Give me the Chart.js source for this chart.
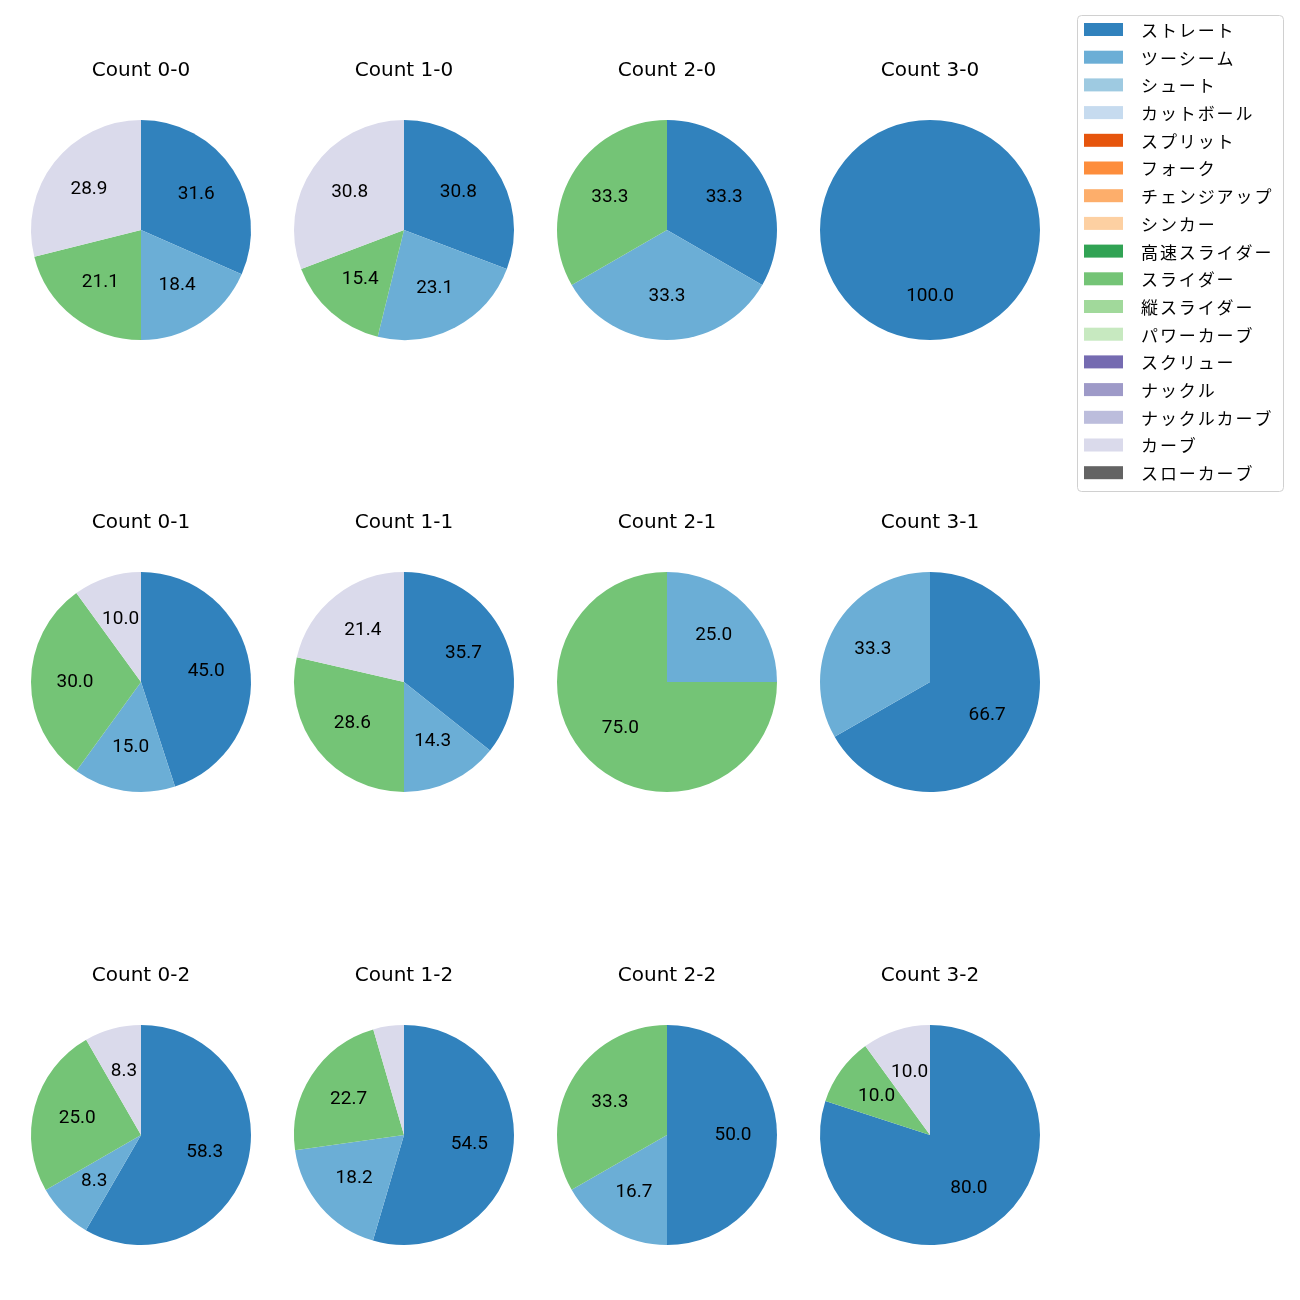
<!DOCTYPE html>
<html>
<head>
<meta charset="utf-8">
<script src="https://cdn.jsdelivr.net/npm/chart.js@4.4.1/dist/chart.umd.min.js"></script>
<style>
  html, body { margin: 0; padding: 0; background: #fff; }
  #wrap { position: relative; width: 1300px; height: 1300px; }
  .cell { position: absolute; }
</style>
</head>
<body>
<div id="wrap"></div>
<script>
// ---- data ----
const pitchTypes = ['ストレート','ツーシーム','シュート','カットボール','スプリット','フォーク','チェンジアップ','シンカー','高速スライダー','スライダー','縦スライダー','パワーカーブ','スクリュー','ナックル','ナックルカーブ','カーブ','スローカーブ'];
const pitchColors = ['#3182bd','#6baed6','#9ecae1','#c6dbef','#e6550d','#fd8d3c','#fdae6b','#fdd0a2','#31a354','#74c476','#a1d99b','#c7e9c0','#756bb1','#9e9ac8','#bcbddc','#dadaeb','#636363'];
const countLabels = ['0-0','1-0','2-0','3-0','0-1','1-1','2-1','3-1','0-2','1-2','2-2','3-2'];
const straight = [31.6, 30.8, 33.3, 100.0, 45.0, 35.7, 0, 66.7, 58.3, 54.5, 50.0, 80.0];
const twoSeam  = [18.4, 23.1, 33.3, 0, 15.0, 14.3, 25.0, 33.3, 8.3, 18.2, 16.7, 0];
const slider   = [21.1, 15.4, 33.3, 0, 30.0, 28.6, 75.0, 0, 25.0, 22.7, 33.3, 10.0];
const curve    = [28.9, 30.8, 0, 0, 10.0, 21.4, 0, 0, 8.3, 4.5, 0, 10.0];

const JPFONT = '"Noto Sans CJK JP", "Noto Sans", sans-serif';
const colX = [141, 404, 667, 930];
const rowY = [230, 682, 1135];
const R = 110;

const wrap = document.getElementById('wrap');

const labelPlugin = {
  id: 'pctLabels',
  afterDatasetsDraw(chart) {
    const ctx = chart.ctx;
    const meta = chart.getDatasetMeta(0);
    const vals = chart.data.datasets[0].data;
    const total = vals.reduce((a, b) => a + b, 0);
    ctx.save();
    ctx.font = '19px Roboto, "DejaVu Sans", sans-serif';
    ctx.fillStyle = '#000';
    ctx.textAlign = 'center';
    ctx.textBaseline = 'alphabetic';
    meta.data.forEach((arc, i) => {
      const pct = vals[i] / total * 100;
      if (!(pct >= 5)) return;
      const p = arc.getProps(['x','y','startAngle','endAngle','outerRadius']);
      const mid = (p.startAngle + p.endAngle) / 2;
      const rr = p.outerRadius * 0.6;
      ctx.fillText(vals[i].toFixed(1), p.x + Math.cos(mid) * rr, p.y + Math.sin(mid) * rr + 4.8);
    });
    ctx.restore();
  }
};

const TITLE_BASE = 21;
const titlePlugin = {
  id: 'cellTitle',
  afterDraw(chart) {
    const ctx = chart.ctx;
    ctx.save();
    ctx.font = '20px "DejaVu Sans", sans-serif';
    ctx.fillStyle = '#000';
    ctx.textAlign = 'center';
    ctx.textBaseline = 'alphabetic';
    ctx.fillText(chart.options.plugins.cellTitle.text, chart.width / 2, TITLE_BASE);
    ctx.restore();
  }
};

const W = 262, H = 350;
countLabels.forEach((c, k) => {
  const col = k % 4, row = Math.floor(k / 4);
  const div = document.createElement('div');
  div.className = 'cell';
  div.style.left = (colX[col] - W / 2) + 'px';
  div.style.top = (rowY[row] - H / 2) + 'px';
  div.style.width = W + 'px';
  div.style.height = H + 'px';
  const cv = document.createElement('canvas');
  cv.width = W; cv.height = H;
  div.appendChild(cv);
  wrap.appendChild(div);
  const data = pitchTypes.map(() => 0);
  data[0] = straight[k];
  data[1] = twoSeam[k];
  data[9] = slider[k];
  data[15] = curve[k];
  new Chart(cv, {
    type: 'pie',
    data: { labels: pitchTypes, datasets: [{ data, backgroundColor: pitchColors, borderWidth: 0, hoverOffset: 0 }] },
    options: {
      responsive: false, animation: false, devicePixelRatio: 1,
      radius: R,
      layout: { padding: 0 },
      events: [],
      plugins: { legend: { display: false }, tooltip: { enabled: false }, cellTitle: { text: 'Count ' + c } }
    },
    plugins: [labelPlugin, titlePlugin]
  });
});

// legend chart
const legendPlugin = {
  id: 'boxLegend',
  afterDraw(chart) {
    const ctx = chart.ctx;
    const labels = chart.data.labels;
    const colors = chart.data.datasets[0].backgroundColor;
    ctx.save();
    const x0 = 7.5, y0 = 5.5, w = 206, h = 476, r = 4;
    ctx.beginPath();
    ctx.moveTo(x0 + r, y0);
    ctx.lineTo(x0 + w - r, y0); ctx.quadraticCurveTo(x0 + w, y0, x0 + w, y0 + r);
    ctx.lineTo(x0 + w, y0 + h - r); ctx.quadraticCurveTo(x0 + w, y0 + h, x0 + w - r, y0 + h);
    ctx.lineTo(x0 + r, y0 + h); ctx.quadraticCurveTo(x0, y0 + h, x0, y0 + h - r);
    ctx.lineTo(x0, y0 + r); ctx.quadraticCurveTo(x0, y0, x0 + r, y0);
    ctx.closePath();
    ctx.fillStyle = 'rgba(255,255,255,0.8)';
    ctx.fill();
    ctx.strokeStyle = '#d0d0d0';
    ctx.lineWidth = 1;
    ctx.stroke();
    ctx.font = '17px ' + JPFONT;
    ctx.letterSpacing = '1.9px';
    ctx.textBaseline = 'middle';
    ctx.textAlign = 'left';
    labels.forEach((lab, i) => {
      const cy = 19.5 + i * 27.7;
      ctx.fillStyle = colors[i];
      ctx.fillRect(14, cy - 6.5, 39, 13);
      ctx.fillStyle = '#000';
      ctx.fillText(lab, 71, cy + 1);
    });
    ctx.restore();
  }
};
const ldiv = document.createElement('div');
ldiv.className = 'cell';
ldiv.style.left = '1070px'; ldiv.style.top = '10px';
ldiv.style.width = '225px'; ldiv.style.height = '490px';
const lcv = document.createElement('canvas');
lcv.width = 225; lcv.height = 490;
ldiv.appendChild(lcv);
wrap.appendChild(ldiv);
new Chart(lcv, {
  type: 'pie',
  data: { labels: pitchTypes, datasets: [{ data: pitchTypes.map(() => 0), backgroundColor: pitchColors, borderWidth: 0 }] },
  options: {
    responsive: false, animation: false, devicePixelRatio: 1, events: [],
    plugins: { legend: { display: false }, tooltip: { enabled: false } }
  },
  plugins: [legendPlugin]
});
</script>
</body>
</html>
